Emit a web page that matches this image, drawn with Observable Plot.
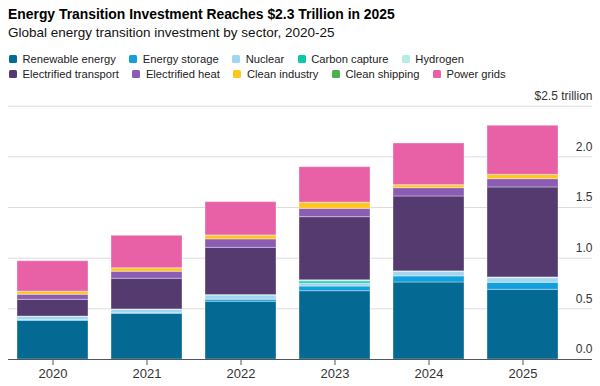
<!DOCTYPE html>
<html>
<head>
<meta charset="utf-8">
<script src="https://cdn.jsdelivr.net/npm/d3@7"></script>
<script src="https://cdn.jsdelivr.net/npm/@observablehq/plot@0.6"></script>
<style>
  html, body { margin: 0; padding: 0; background: #fff; }
  body { width: 600px; height: 386px; overflow: hidden; font-family: "Liberation Sans", Arial, sans-serif; color: #000; }
  #header { height: 84px; padding-left: 8px; box-sizing: border-box; }
  #title { font-weight: bold; font-size: 13.9px; line-height: 18px; padding-top: 5px; }
  #subtitle { font-size: 13.5px; line-height: 18px; color: #111; padding-top: 1px; }
  #legend { margin-top: 9.5px; }
  .row { height: 15px; display: flex; align-items: center; font-size: 11.2px; color: #222; }
  .item { display: flex; align-items: center; margin-right: 12.5px; white-space: nowrap; }
  .sw { width: 8px; height: 8px; border-radius: 1.5px; margin-right: 5.5px; margin-left: 1px; }
  #chart svg { display: block; }
</style>
</head>
<body>
<div id="header">
  <div id="title"></div>
  <div id="subtitle"></div>
  <div id="legend"></div>
</div>
<div id="chart"></div>
<script>
const titleText = "Energy Transition Investment Reaches $2.3 Trillion in 2025";
const subtitleText = "Global energy transition investment by sector, 2020-25";

const years = ["2020", "2021", "2022", "2023", "2024", "2025"];
const sectors = ["Renewable energy", "Energy storage", "Nuclear", "Carbon capture", "Hydrogen",
                 "Electrified transport", "Electrified heat", "Clean industry", "Clean shipping", "Power grids"];
const colors = ["#046a94", "#139edc", "#a3d5ef", "#0bc9a6", "#b4eee3",
                "#553a70", "#8b5cb4", "#ffc71e", "#4caf50", "#e860a5"];

// $ trillion
const renewable    = [0.380, 0.450, 0.570, 0.674, 0.760, 0.688];
const storage      = [0.010, 0.010, 0.020, 0.046, 0.060, 0.069];
const nuclear      = [0.030, 0.030, 0.040, 0.030, 0.043, 0.045];
const carbonCapture= [0.002, 0.002, 0.003, 0.020, 0.003, 0.003];
const hydrogen     = [0.002, 0.002, 0.003, 0.012, 0.004, 0.005];
const transport    = [0.165, 0.303, 0.466, 0.623, 0.739, 0.888];
const heat         = [0.050, 0.069, 0.083, 0.082, 0.082, 0.082];
const industry     = [0.030, 0.034, 0.038, 0.058, 0.028, 0.041];
const shipping     = [0.001, 0.001, 0.002, 0.003, 0.002, 0.002];
const grids        = [0.300, 0.320, 0.328, 0.350, 0.411, 0.484];

const yTicks = [0, 0.5, 1.0, 1.5, 2.0, 2.5];
const yTickLabels = ["0.0", "0.5", "1.0", "1.5", "2.0", "$2.5 trillion"];

const series = [renewable, storage, nuclear, carbonCapture, hydrogen, transport, heat, industry, shipping, grids];

const rows = [];
years.forEach((year, i) => {
  sectors.forEach((sector, j) => rows.push({year, sector, value: series[j][i]}));
});

document.getElementById("title").textContent = titleText;
document.getElementById("subtitle").textContent = subtitleText;

const legend = document.getElementById("legend");
[sectors.slice(0, 5), sectors.slice(5)].forEach(group => {
  const row = document.createElement("div");
  row.className = "row";
  group.forEach(s => {
    const item = document.createElement("div");
    item.className = "item";
    const sw = document.createElement("span");
    sw.className = "sw";
    sw.style.background = colors[sectors.indexOf(s)];
    const lab = document.createElement("span");
    lab.textContent = s;
    item.appendChild(sw);
    item.appendChild(lab);
    row.appendChild(item);
  });
  legend.appendChild(row);
});

const chart = Plot.plot({
  width: 600,
  height: 302,
  marginLeft: 8,
  marginRight: 8,
  marginTop: 21.7,
  marginBottom: 27,
  style: {fontFamily: "Liberation Sans, Arial, sans-serif", background: "transparent", color: "#333"},
  x: {type: "band", domain: years, range: [8, 567], paddingInner: 0.25, paddingOuter: 0.07, axis: null, label: null},
  y: {domain: [0, 2.5], axis: null},
  color: {domain: sectors, range: colors},
  marks: [
    Plot.ruleY(yTicks.filter(d => d > 0), {stroke: "#dcdcdc", strokeWidth: 1}),
    Plot.barY(rows, {x: "year", y: "value", fill: "sector", order: sectors,
                     stroke: "white", strokeOpacity: 0.35, strokeWidth: 1}),
    Plot.ruleY([0], {stroke: "#555", strokeWidth: 1}),
    Plot.axisX({tickSize: 6, tickPadding: 3, fontSize: 13, stroke: "#555", color: "#333", label: null}),
    Plot.text(yTicks, {y: d => d, text: (d, i) => yTickLabels[i], frameAnchor: "right",
                       textAnchor: "end", dy: -10, fontSize: 12, fill: "#333"})
  ]
});
document.getElementById("chart").appendChild(chart);
</script>
</body>
</html>
